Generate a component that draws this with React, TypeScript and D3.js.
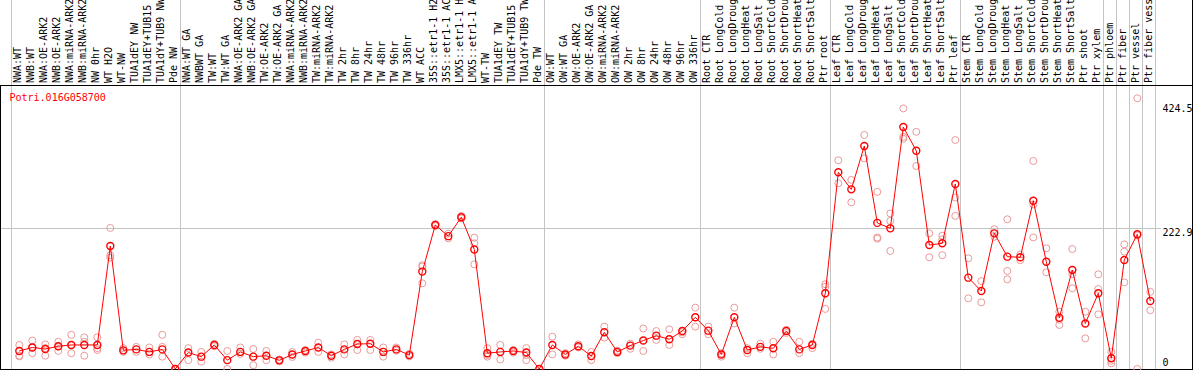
import React from "react";
import * as d3 from "d3";

const geneId = "Potri.016G058700";

const categories: string[] = [
  "NWA:WT", "NWB:WT", "NWA:OE-ARK2", "NWB:OE-ARK2", "NWA:miRNA-ARK2", "NWB:miRNA-ARK2",
  "NW 0hr", "WT H2O", "WT-NW", "TUA1dEY NW", "TUA1dEY+TUB15", "TUA1dY+TUB9 NW", "Pde NW",
  "NWA:WT GA", "NWBWT GA", "TW:WT", "TW:WT GA", "NWA:OE-ARK2 GA", "NWB:OE-ARK2 GA",
  "TW:OE-ARK2", "TW:OE-ARK2 GA", "NWA:miRNA-ARK2", "NWB:miRNA-ARK2", "TW:miRNA-ARK2",
  "TW:miRNA-ARK2", "TW 2hr", "TW 8hr", "TW 24hr", "TW 48hr", "TW 96hr", "TW 336hr",
  "WT ACC", "35S::etr1-1 H2", "35S::etr1-1 AC", "LMX5::etr1-1 H", "LMX5::etr1-1 A",
  "WT-TW", "TUA1dEY TW", "TUA1dEY+TUB15", "TUA1dY+TUB9 TW", "Pde TW",
  "OW:WT", "OW:WT GA", "OW:OE-ARK2", "OW:OE-ARK2 GA", "OW:miRNA-ARK2", "OW:miRNA-ARK2",
  "OW 2hr", "OW 8hr", "OW 24hr", "OW 48hr", "OW 96hr", "OW 336hr",
  "Root CTR", "Root LongCold", "Root LongDroug", "Root LongHeat", "Root LongSalt",
  "Root ShortCold", "Root ShortDrou", "Root ShortHeat", "Root ShortSalt", "Ptr root",
  "Leaf CTR", "Leaf LongCold", "Leaf LongDroug", "Leaf LongHeat", "Leaf LongSalt",
  "Leaf ShortCold", "Leaf ShortDrou", "Leaf ShortHeat", "Leaf ShortSalt", "Ptr leaf",
  "Stem CTR", "Stem LongCold", "Stem LongDroug", "Stem LongHeat", "Stem LongSalt",
  "Stem ShortCold", "Stem ShortDrou", "Stem ShortHeat", "Stem ShortSalt", "Ptr shoot",
  "Ptr xylem", "Ptr phloem", "Ptr fiber", "Ptr vessel", "Ptr fiber vess",
];

const meanValues: number[] = [
  28.5, 34, 31.6, 36, 38, 38, 38, 194.5, 29.5, 31, 27, 31, 0,
  26, 19.5, 38, 14, 27, 19.5, 21, 13.7, 23, 28.5, 34, 21, 31, 39.5, 40, 27, 31, 22,
  154, 227.7, 210, 240, 189, 25, 27, 28.5, 26, 0,
  38, 23, 36, 20.5, 58, 27, 37, 45, 52.7, 47, 60, 81.7,
  60.6, 23, 81.7, 30, 35, 32.7, 60, 31, 38, 119.7,
  311, 284, 352.6, 231, 222.4, 382.6, 345, 196, 198.7, 292.5,
  144.4, 123.3, 214.5, 177.6, 176.6, 266, 169.6, 81, 156.5, 72, 119.7,
  17, 172.3, 213, 107.5,
];

const replicateValues: number[][] = [
  [38, 21, 20], [45, 25, 34], [39, 33, 21], [43, 28.5, 36], [54, 25, 38], [50, 43, 21],
  [50, 33, 30], [223, 180, 176], [33, 27], [35, 27], [34, 23], [54, 35, 19.5], [0, 0],
  [33, 14], [27, 11.5], [40, 36], [28.5, 0], [34, 24], [31.6, 6], [28.5, 14], [15, 12],
  [27, 19], [30, 26], [41.6, 27], [23, 18], [39, 23], [46, 30], [46, 30], [34, 19.5],
  [34, 29], [24, 20],
  [164, 135.5, 162], [229, 226], [206.6, 214], [242, 238], [207.6, 198.7, 165.5],
  [33, 19.5, 22], [38, 15], [30, 26], [33, 14, 22], [0],
  [51, 23], [25, 21], [39, 34], [27, 14], [67, 49.6], [29, 25], [40, 32], [64, 28.5],
  [60, 46], [62.7, 38], [55, 58], [97, 67],
  [67, 55], [19.5, 25], [97, 72], [33, 25], [40, 32], [43, 23], [57, 62], [43, 25],
  [40, 33], [134, 130, 95],
  [330, 293.6], [299, 263.5], [370, 333], [280, 208, 206], [246, 234, 186.6],
  [412, 367, 364], [375, 321], [214.5, 176.6], [210.8, 180, 205], [362, 271, 242],
  [175, 111.8], [139, 105.4], [221, 209], [236.7, 155, 141.8], [181, 172],
  [328.9, 260, 208], [190.8, 152.9], [90.6, 69.6, 78], [189.7, 150, 127.6],
  [90.6, 48.5], [149.7, 126.5, 86.5],
  [27, 9, 13], [197, 185.5, 137], [428, 0, 211], [122, 93],
];

// index of the first category of each group (last entry = end)
const groupStarts: number[] = [0, 13, 41, 53, 63, 73, 84, 85, 86, 87, 88];

const axisMax = 424.5;
const gridValue = 222.9;
const axisLabels: string[] = ["424.5", "222.9", "0"];

const W = 1194;
const H = 370;
const FONT = "'DejaVu Sans Mono', 'Liberation Mono', monospace";

export default function App() {
  const plotTop = 85.5;
  const plotBottom = 369;
  const frameRight = 1192.5;

  const x = d3.scaleLinear().domain([0, categories.length - 1]).range([19.3, 19.3 + 13 * (categories.length - 1)]);
  const y = d3.scaleLinear().domain([0, axisMax]).range([plotBottom, 100.5]);

  const line = d3
    .line<number>()
    .x((_, i) => x(i))
    .y((d) => y(d));

  const sepX = (g: number) => Math.round(x(g) - 8) + 0.5;

  const repColor = "#e99a9a";
  const mainColor = "#ff0000";

  const labelYs = [y(axisMax) + 11, y(gridValue) + 7.5, y(0) - 3.5];

  return (
    <svg
      width={W}
      height={H}
      style={{ position: "absolute", left: 0, top: 0, background: "#fff" }}
      fontFamily={FONT}
    >
      <rect x={0} y={0} width={W} height={H} fill="#fff" />
      {/* group separators */}
      {groupStarts.map((g, k) => (
        <line key={"sep" + k} x1={sepX(g)} x2={sepX(g)} y1={0} y2={plotBottom} stroke="#c4c4c4" strokeWidth={1} />
      ))}
      {/* horizontal gridline */}
      <line x1={0} x2={1161} y1={Math.round(y(gridValue)) + 0.5} y2={Math.round(y(gridValue)) + 0.5} stroke="#c4c4c4" strokeWidth={1} />
      {/* category labels */}
      {categories.map((c, i) => (
        <text
          key={"lab" + i}
          transform={`translate(${x(i) + 1.8},83) rotate(-90)`}
          fontSize={10}
          fill="#000"
        >
          {c}
        </text>
      ))}
      {/* frame */}
      <line x1={0} x2={frameRight} y1={plotTop} y2={plotTop} stroke="#000" strokeWidth={1} />
      <line x1={0} x2={frameRight} y1={plotBottom + 0.5} y2={plotBottom + 0.5} stroke="#000" strokeWidth={1} />
      <line x1={0.5} x2={0.5} y1={plotTop} y2={H} stroke="#000" strokeWidth={1} />
      <line x1={frameRight} x2={frameRight} y1={0} y2={H} stroke="#000" strokeWidth={1} />
      {/* axis labels */}
      {axisLabels.map((t, k) => (
        <text key={"ax" + k} x={1162.5} y={labelYs[k]} fontSize={10} fill="#000">
          {t}
        </text>
      ))}
      {/* gene id */}
      <text x={9.5} y={101} fontSize={10} fill={mainColor}>
        {geneId}
      </text>
      {/* replicates */}
      {replicateValues.map((reps, i) =>
        reps.map((v, j) => (
          <circle key={`r${i}-${j}`} cx={x(i)} cy={y(v)} r={3.5} fill="none" stroke={repColor} strokeWidth={1} />
        ))
      )}
      {/* mean line */}
      <path d={line(meanValues) || ""} fill="none" stroke={mainColor} strokeWidth={1} />
      {meanValues.map((v, i) => (
        <circle key={"m" + i} cx={x(i)} cy={y(v)} r={3.5} fill="none" stroke={mainColor} strokeWidth={1.4} />
      ))}
    </svg>
  );
}
